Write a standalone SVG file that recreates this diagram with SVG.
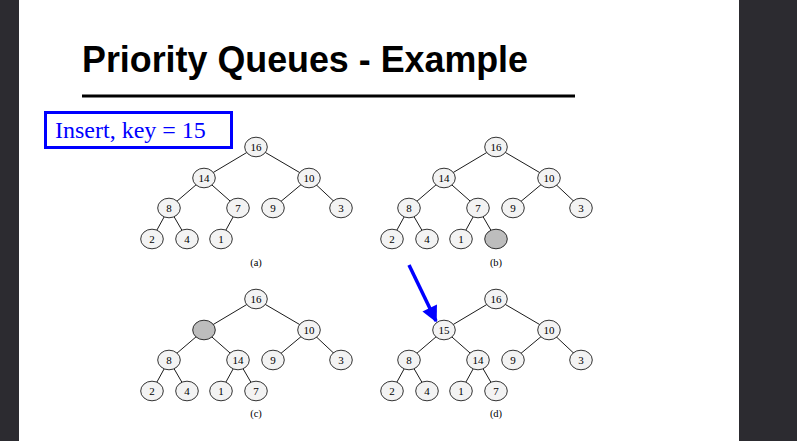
<svg xmlns="http://www.w3.org/2000/svg" width="797" height="441" viewBox="0 0 797 441">
<style>
.e{stroke:#000;stroke-width:0.9}
.n{fill:#f3f3f3;stroke:#000;stroke-width:0.8}
.g{fill:#bdbdbd;stroke:#000;stroke-width:0.8}
.t{font-family:"Liberation Serif","Times New Roman",serif;font-size:11px;text-anchor:middle;fill:#000}
.c{font-family:"Liberation Serif","Times New Roman",serif;font-size:10.5px;text-anchor:middle;fill:#000}
</style>
<defs>
<ellipse id="nd" cx="0" cy="0" rx="11.3" ry="9.8"/>
<marker id="ah" viewBox="0 0 10 10" refX="9" refY="5" markerWidth="5.6" markerHeight="4.6" orient="auto" markerUnits="strokeWidth"><path d="M0,0 L10,5 L0,10 z" fill="#0000ff"/></marker>
</defs>
<rect x="0" y="0" width="797" height="441" fill="#ffffff"/>
<rect x="0" y="0" width="19" height="441" fill="#2c2b30"/>
<rect x="739" y="0" width="58" height="441" fill="#2c2b30"/>
<text x="82" y="72" font-family="'Liberation Sans',Arial,sans-serif" font-weight="bold" font-size="36" textLength="446" lengthAdjust="spacingAndGlyphs">Priority Queues - Example</text>
<line x1="82" y1="96" x2="575" y2="96" stroke="#000" stroke-width="3"/>
<g id="insert-box">
<rect x="45.5" y="112.5" width="186" height="35" fill="#fff" stroke="#0000ff" stroke-width="3"/>
<text x="55" y="138" font-family="'Liberation Serif','Times New Roman',serif" font-size="24" fill="#0000ff">Insert, key = 15</text>
</g>
<g id="connectors">
<g transform="translate(0,0)">
<line class="e" x1="256" y1="147" x2="204" y2="178"/><line class="e" x1="256" y1="147" x2="309" y2="178"/>
<line class="e" x1="204" y1="178" x2="169" y2="208"/><line class="e" x1="204" y1="178" x2="238" y2="208"/>
<line class="e" x1="309" y1="178" x2="273" y2="208"/><line class="e" x1="309" y1="178" x2="341" y2="208"/>
<line class="e" x1="169" y1="208" x2="152" y2="239"/><line class="e" x1="169" y1="208" x2="187" y2="239"/>
<line class="e" x1="238" y1="208" x2="221" y2="239"/>
</g>
<g transform="translate(240,0)">
<line class="e" x1="256" y1="147" x2="204" y2="178"/><line class="e" x1="256" y1="147" x2="309" y2="178"/>
<line class="e" x1="204" y1="178" x2="169" y2="208"/><line class="e" x1="204" y1="178" x2="238" y2="208"/>
<line class="e" x1="309" y1="178" x2="273" y2="208"/><line class="e" x1="309" y1="178" x2="341" y2="208"/>
<line class="e" x1="169" y1="208" x2="152" y2="239"/><line class="e" x1="169" y1="208" x2="187" y2="239"/>
<line class="e" x1="238" y1="208" x2="221" y2="239"/><line class="e" x1="238" y1="208" x2="256" y2="239"/>
</g>
<g transform="translate(0,152)">
<line class="e" x1="256" y1="147" x2="204" y2="178"/><line class="e" x1="256" y1="147" x2="309" y2="178"/>
<line class="e" x1="204" y1="178" x2="169" y2="208"/><line class="e" x1="204" y1="178" x2="238" y2="208"/>
<line class="e" x1="309" y1="178" x2="273" y2="208"/><line class="e" x1="309" y1="178" x2="341" y2="208"/>
<line class="e" x1="169" y1="208" x2="152" y2="239"/><line class="e" x1="169" y1="208" x2="187" y2="239"/>
<line class="e" x1="238" y1="208" x2="221" y2="239"/><line class="e" x1="238" y1="208" x2="256" y2="239"/>
</g>
<g transform="translate(240,152)">
<line class="e" x1="256" y1="147" x2="204" y2="178"/><line class="e" x1="256" y1="147" x2="309" y2="178"/>
<line class="e" x1="204" y1="178" x2="169" y2="208"/><line class="e" x1="204" y1="178" x2="238" y2="208"/>
<line class="e" x1="309" y1="178" x2="273" y2="208"/><line class="e" x1="309" y1="178" x2="341" y2="208"/>
<line class="e" x1="169" y1="208" x2="152" y2="239"/><line class="e" x1="169" y1="208" x2="187" y2="239"/>
<line class="e" x1="238" y1="208" x2="221" y2="239"/><line class="e" x1="238" y1="208" x2="256" y2="239"/>
</g>
<line x1="409" y1="265" x2="436" y2="321" stroke="#0000ff" stroke-width="3.5" marker-end="url(#ah)"/>
</g>
<g id="tree-a">
<g id="a16"><use href="#nd" x="256" y="147" class="n"/><text class="t" x="256" y="151">16</text></g>
<g id="a14"><use href="#nd" x="204" y="178" class="n"/><text class="t" x="204" y="182">14</text></g>
<g id="a10"><use href="#nd" x="309" y="178" class="n"/><text class="t" x="309" y="182">10</text></g>
<g id="a8"><use href="#nd" x="169" y="208" class="n"/><text class="t" x="169" y="212">8</text></g>
<g id="a7"><use href="#nd" x="238" y="208" class="n"/><text class="t" x="238" y="212">7</text></g>
<g id="a9"><use href="#nd" x="273" y="208" class="n"/><text class="t" x="273" y="212">9</text></g>
<g id="a3"><use href="#nd" x="341" y="208" class="n"/><text class="t" x="341" y="212">3</text></g>
<g id="a2"><use href="#nd" x="152" y="239" class="n"/><text class="t" x="152" y="243">2</text></g>
<g id="a4"><use href="#nd" x="187" y="239" class="n"/><text class="t" x="187" y="243">4</text></g>
<g id="a1"><use href="#nd" x="221" y="239" class="n"/><text class="t" x="221" y="243">1</text></g>
<text class="c" x="256" y="266">(a)</text>
</g>
<g id="tree-b">
<g id="b16"><use href="#nd" x="496" y="147" class="n"/><text class="t" x="496" y="151">16</text></g>
<g id="b14"><use href="#nd" x="444" y="178" class="n"/><text class="t" x="444" y="182">14</text></g>
<g id="b10"><use href="#nd" x="549" y="178" class="n"/><text class="t" x="549" y="182">10</text></g>
<g id="b8"><use href="#nd" x="409" y="208" class="n"/><text class="t" x="409" y="212">8</text></g>
<g id="b7"><use href="#nd" x="478" y="208" class="n"/><text class="t" x="478" y="212">7</text></g>
<g id="b9"><use href="#nd" x="513" y="208" class="n"/><text class="t" x="513" y="212">9</text></g>
<g id="b3"><use href="#nd" x="581" y="208" class="n"/><text class="t" x="581" y="212">3</text></g>
<g id="b2"><use href="#nd" x="392" y="239" class="n"/><text class="t" x="392" y="243">2</text></g>
<g id="b4"><use href="#nd" x="427" y="239" class="n"/><text class="t" x="427" y="243">4</text></g>
<g id="b1"><use href="#nd" x="461" y="239" class="n"/><text class="t" x="461" y="243">1</text></g>
<g id="bnew"><use href="#nd" x="496" y="239" class="g"/></g>
<text class="c" x="496" y="266">(b)</text>
</g>
<g id="tree-c">
<g id="c16"><use href="#nd" x="256" y="299" class="n"/><text class="t" x="256" y="303">16</text></g>
<g id="chole"><use href="#nd" x="204" y="330" class="g"/></g>
<g id="c10"><use href="#nd" x="309" y="330" class="n"/><text class="t" x="309" y="334">10</text></g>
<g id="c8"><use href="#nd" x="169" y="360" class="n"/><text class="t" x="169" y="364">8</text></g>
<g id="c14"><use href="#nd" x="238" y="360" class="n"/><text class="t" x="238" y="364">14</text></g>
<g id="c9"><use href="#nd" x="273" y="360" class="n"/><text class="t" x="273" y="364">9</text></g>
<g id="c3"><use href="#nd" x="341" y="360" class="n"/><text class="t" x="341" y="364">3</text></g>
<g id="c2"><use href="#nd" x="152" y="391" class="n"/><text class="t" x="152" y="395">2</text></g>
<g id="c4"><use href="#nd" x="187" y="391" class="n"/><text class="t" x="187" y="395">4</text></g>
<g id="c1"><use href="#nd" x="221" y="391" class="n"/><text class="t" x="221" y="395">1</text></g>
<g id="c7"><use href="#nd" x="256" y="391" class="n"/><text class="t" x="256" y="395">7</text></g>
<text class="c" x="256" y="417">(c)</text>
</g>
<g id="tree-d">
<g id="d16"><use href="#nd" x="496" y="299" class="n"/><text class="t" x="496" y="303">16</text></g>
<g id="d15"><use href="#nd" x="444" y="330" class="n"/><text class="t" x="444" y="334">15</text></g>
<g id="d10"><use href="#nd" x="549" y="330" class="n"/><text class="t" x="549" y="334">10</text></g>
<g id="d8"><use href="#nd" x="409" y="360" class="n"/><text class="t" x="409" y="364">8</text></g>
<g id="d14"><use href="#nd" x="478" y="360" class="n"/><text class="t" x="478" y="364">14</text></g>
<g id="d9"><use href="#nd" x="513" y="360" class="n"/><text class="t" x="513" y="364">9</text></g>
<g id="d3"><use href="#nd" x="581" y="360" class="n"/><text class="t" x="581" y="364">3</text></g>
<g id="d2"><use href="#nd" x="392" y="391" class="n"/><text class="t" x="392" y="395">2</text></g>
<g id="d4"><use href="#nd" x="427" y="391" class="n"/><text class="t" x="427" y="395">4</text></g>
<g id="d1"><use href="#nd" x="461" y="391" class="n"/><text class="t" x="461" y="395">1</text></g>
<g id="d7"><use href="#nd" x="496" y="391" class="n"/><text class="t" x="496" y="395">7</text></g>
<text class="c" x="496" y="417">(d)</text>
</g>
</svg>
